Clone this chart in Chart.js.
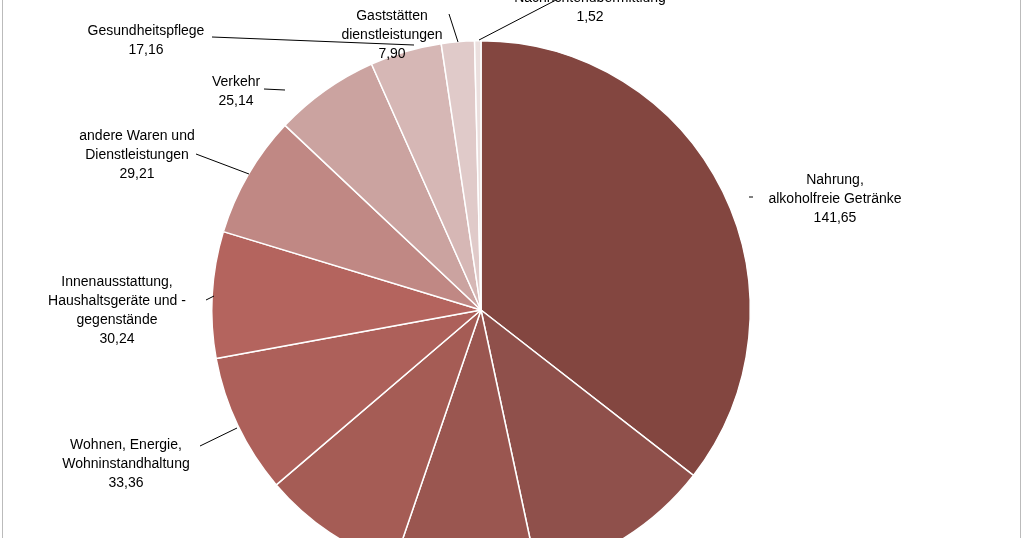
<!DOCTYPE html>
<html><head><meta charset="utf-8">
<script src="https://cdn.jsdelivr.net/npm/chart.js@4"></script>
<style>
html,body{margin:0;padding:0;background:#fff;overflow:hidden;width:1024px;height:538px}
#frame{position:absolute;left:2px;top:-2px;width:1017px;height:600px;border:1px solid #bbb}
#wrap{position:absolute;left:0;top:0;width:1024px;height:640px}
</style></head><body>
<div id="frame"></div>
<div id="wrap"><canvas id="c" width="1024" height="640"></canvas></div>
<script>
const categories = ["Nahrung, alkoholfreie Getränke","Freizeit, Unterhaltung und Kultur","Bekleidung und Schuhe","Alkoholische Getränke, Tabakwaren","Wohnen, Energie, Wohninstandhaltung","Innenausstattung, Haushaltsgeräte und -gegenstände","andere Waren und Dienstleistungen","Verkehr","Gesundheitspflege","Beherbergungs- und Gaststättendienstleistungen","Nachrichtenübermittlung"];
const values = [141.65,44.3,34.3,33.9,33.36,30.24,29.21,25.14,17.16,7.90,1.52];
const labelLines = [["Nahrung,","alkoholfreie Getränke","141,65"],[],[],[],["Wohnen, Energie,","Wohninstandhaltung","33,36"],["Innenausstattung,","Haushaltsgeräte und -","gegenstände","30,24"],["andere Waren und","Dienstleistungen","29,21"],["Verkehr","25,14"],["Gesundheitspflege","17,16"],["Gaststätten","dienstleistungen","7,90"],["Nachrichtenübermittlung","1,52"]];
const colors = ["#834640","#8f504b","#9a5650","#a55c55","#ad605a","#b4645e","#c08884","#cba3a0","#d6b7b5","#e0cac9","#ebdfde"];
// label layout: text center x, first baseline y, leader line end (x,y)
const layout = [[835,184,753,197],null,null,null,[126,449,200,446],[117,286,206,300],[137,140,196,154],[236,86,264,89],[146,35,212,37],[392,20,449,14],[590,2,556,0]];
const leaderStart = [[749,197],null,null,null,[237,428],[214,296],[249,174],[285,90],[414,45],[458,42],[479,40]];
const labels = {id:'lbl',afterDraw(ch){const x=ch.ctx;x.save();x.font='14px "Liberation Sans", Arial';x.fillStyle='#000';x.strokeStyle='#000';x.lineWidth=1;x.textAlign='center';
 layout.forEach((l,i)=>{if(!l)return;const s=leaderStart[i];x.beginPath();x.moveTo(l[2],l[3]);x.lineTo(s[0],s[1]);x.stroke();
 labelLines[i].forEach((t,j)=>x.fillText(t,l[0],l[1]+j*19));});x.restore();}};
new Chart(document.getElementById('c'),{type:'pie',data:{labels:categories,datasets:[{data:values,backgroundColor:colors,borderColor:'#fff',borderWidth:1.5}]},
options:{responsive:false,animation:false,layout:{padding:{left:211,right:273,top:40,bottom:60}},plugins:{legend:{display:false},tooltip:{enabled:false}}},plugins:[labels]});
</script></body></html>
